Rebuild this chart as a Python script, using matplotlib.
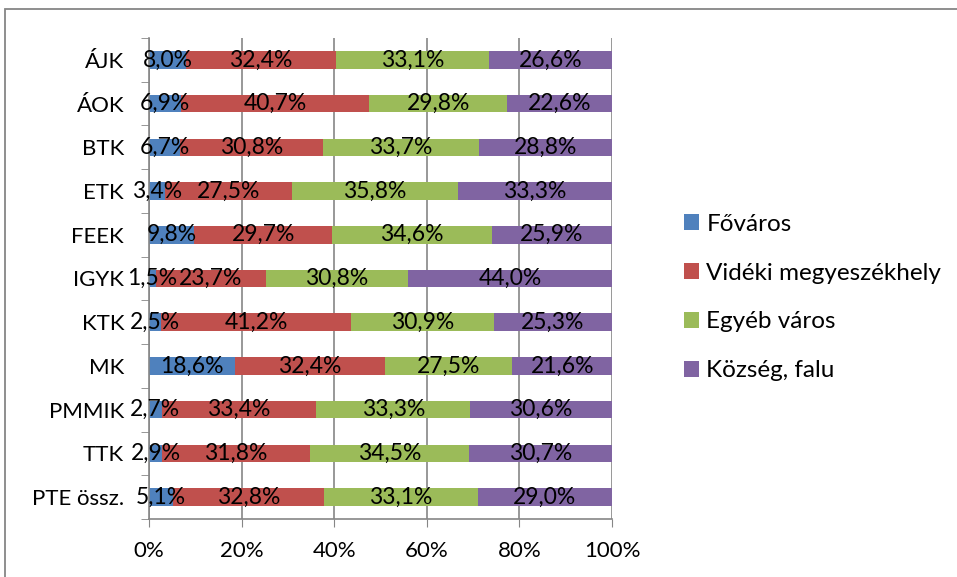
import matplotlib
matplotlib.use("Agg")
import matplotlib.pyplot as plt
from matplotlib.patches import Rectangle
import numpy as np

plt.rcParams['font.family'] = ['Lato', 'DejaVu Sans']

# data (percent), top to bottom as in the chart
categories = ['ÁJK', 'ÁOK', 'BTK', 'ETK', 'FEEK', 'IGYK', 'KTK', 'MK',
              'PMMIK', 'TTK', 'PTE össz.']
fovaros = [8.0, 6.9, 6.7, 3.4, 9.8, 1.5, 2.5, 18.6, 2.7, 2.9, 5.1]
videki = [32.4, 40.7, 30.8, 27.5, 29.7, 23.7, 41.2, 32.4, 33.4, 31.8, 32.8]
egyeb = [33.1, 29.8, 33.7, 35.8, 34.6, 30.8, 30.9, 27.5, 33.3, 34.5, 33.1]
kozseg = [26.6, 22.6, 28.8, 33.3, 25.9, 44.0, 25.3, 21.6, 30.6, 30.7, 29.0]
series_names = ['Főváros', 'Vidéki megyeszékhely', 'Egyéb város', 'Község, falu']
colors = ['#4F81BD', '#C0504D', '#9BBB59', '#8064A2']
tick_vals = [0, 20, 40, 60, 80, 100]

fig = plt.figure(figsize=(9.57, 5.77), dpi=100)
# axes from x=149..612 px, y=38..519 px
ax = fig.add_axes([149 / 957, 1 - 519 / 577, (612 - 149) / 957, (519 - 38) / 577])

# outer chart frame (only left and top edges are inside the picture)
fig.patches.append(Rectangle((5 / 957, -0.1), 1.2, 1 - 9 / 577 + 0.1,
                             transform=fig.transFigure, fill=False,
                             edgecolor='#868686', linewidth=1.3))

y = np.arange(len(categories))
left = np.zeros(len(categories))
bars = []
for vals, name, col in zip([fovaros, videki, egyeb, kozseg], series_names, colors):
    vals = np.array(vals)
    b = ax.barh(y, vals / 100, left=left, height=0.4, color=col, label=name)
    ax.bar_label(b, labels=[f"{v:.1f}%".replace('.', ',') for v in vals],
                 label_type='center', fontsize=16.5, color='black')
    left += vals / 100
    bars.append(b)

ax.set_xlim(0, 1)
ax.set_ylim(len(categories) - 0.5, -0.5)
ax.set_xticks([t / 100 for t in tick_vals])
ax.set_xticklabels([f"{t}%" for t in tick_vals], fontsize=16)
ax.set_yticks(y)
ax.set_yticklabels(categories, fontsize=16)
ax.tick_params(axis='y', length=0, pad=18)
ax.set_yticks(np.arange(-0.5, len(categories), 1), minor=True)
ax.tick_params(axis='y', which='minor', length=6, color='#868686')
ax.tick_params(axis='x', length=6, color='#868686', pad=10)

ax.grid(axis='x', color='#868686', linewidth=1.2)
ax.set_axisbelow(True)
for s in ['top', 'right']:
    ax.spines[s].set_visible(False)
for s in ['left', 'bottom']:
    ax.spines[s].set_color('#868686')
    ax.spines[s].set_linewidth(1.2)

fig.legend(handles=bars, labels=series_names, loc='center left',
           bbox_to_anchor=(684 / 957, 1 - 297.5 / 577), frameon=False,
           fontsize=17.5, borderpad=0, borderaxespad=0,
           handlelength=0.62, handleheight=0.62, handletextpad=0.3,
           labelspacing=1.15)

fig.savefig('out.png', dpi=100)
